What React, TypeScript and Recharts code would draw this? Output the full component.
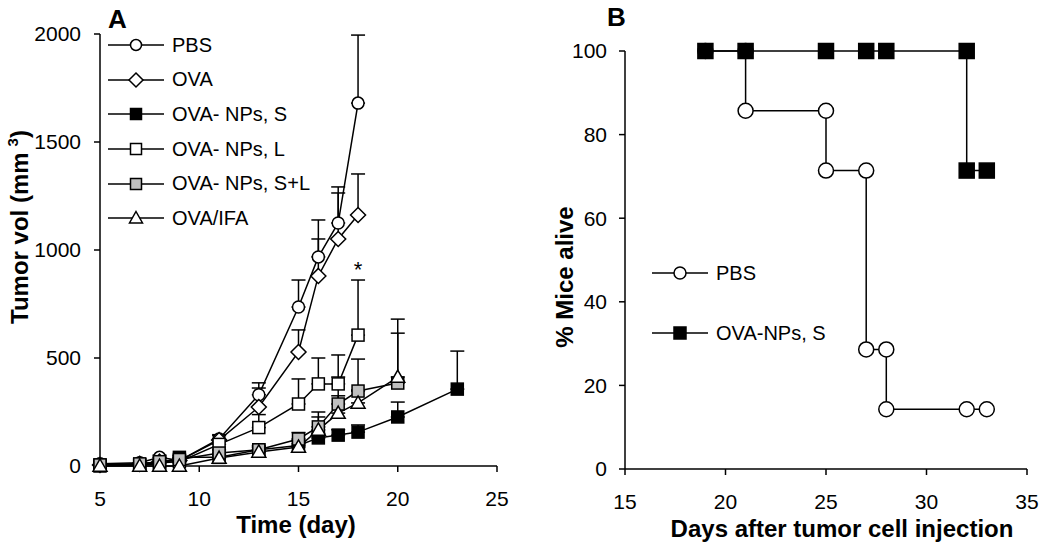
import { LineChart, Line, XAxis, YAxis, ErrorBar, Legend, ReferenceDot } from 'recharts';

const FONT = '"Liberation Sans", Arial, Helvetica, sans-serif';

// Panel A: tumour growth, mean volume (mm3) with upper SD
const daysShort = [5, 7, 8, 9, 11, 13, 15, 16, 17, 18];
const daysTo20 = [5, 7, 8, 9, 11, 13, 15, 16, 17, 18, 20];
const daysTo23 = [5, 7, 8, 9, 11, 13, 15, 16, 17, 18, 20, 23];

const pbsVol = [10, 15, 40, 25, 125, 330, 736, 968, 1125, 1680];
const pbsSd = [null, null, 10, 10, 20, 55, 125, 171, 167, 315];
const ovaVol = [5, 10, 20, 25, 120, 273, 528, 880, 1051, 1162];
const ovaSd = [null, null, null, 10, 20, 88, 102, 171, 213, 190];
const npSVol = [0, 5, 10, 40, 40, 75, 95, 130, 143, 157, 227, 356];
const npSSd = [null, null, null, 10, 10, 15, 20, 20, 25, 33, 69, 176];
const npLVol = [5, 5, 15, 20, 100, 178, 287, 380, 380, 606];
const npLSd = [null, null, null, 10, 20, 60, 116, 120, 134, 255];
const npSLVol = [5, 10, 20, 30, 60, 75, 125, 181, 287, 347, 384];
const npSLSd = [null, null, null, 10, 15, 20, 30, 69, 125, 148, 231];
const ifaVol = [0, 0, 0, 0, 37, 65, 88, 167, 245, 292, 412];
const ifaSd = [null, null, null, null, 15, 20, 15, 60, 80, 60, 268];

const volTicks = [0, 500, 1000, 1500, 2000];
const dayTicks = [5, 10, 15, 20, 25];

// Panel B: survival (step curves, repeated days give the drops)
const survDaysPbs = [19, 21, 21, 25, 25, 27, 27, 28, 28, 32, 33];
const survPbs = [100, 100, 85.7, 85.7, 71.4, 71.4, 28.6, 28.6, 14.3, 14.3, 14.3];
const survDaysNpS = [19, 21, 25, 27, 28, 32, 32, 33];
const survNpS = [100, 100, 100, 100, 100, 100, 71.4, 71.4];

const aliveTicks = [0, 20, 40, 60, 80, 100];
const survDayTicks = [15, 20, 25, 30, 35];

type Shape = 'circle' | 'diamond' | 'square' | 'triangle';

const toRows = (days: number[], vol: number[], sd: (number | null)[]) =>
  days.map((day, i) => ({ day, vol: vol[i], err: sd[i] == null ? null : [0, sd[i]] }));

const growthSeries = [
  { name: 'PBS', rows: toRows(daysShort, pbsVol, pbsSd), shape: 'circle' as Shape, fill: '#fff' },
  { name: 'OVA', rows: toRows(daysShort, ovaVol, ovaSd), shape: 'diamond' as Shape, fill: '#fff' },
  { name: 'OVA- NPs, S', rows: toRows(daysTo23, npSVol, npSSd), shape: 'square' as Shape, fill: '#000' },
  { name: 'OVA- NPs, L', rows: toRows(daysShort, npLVol, npLSd), shape: 'square' as Shape, fill: '#fff' },
  { name: 'OVA- NPs, S+L', rows: toRows(daysTo20, npSLVol, npSLSd), shape: 'square' as Shape, fill: '#c0c0c0' },
  { name: 'OVA/IFA', rows: toRows(daysTo20, ifaVol, ifaSd), shape: 'triangle' as Shape, fill: '#fff' },
];

const survSeries = [
  { name: 'PBS', rows: survDaysPbs.map((day, i) => ({ day, alive: survPbs[i] })), shape: 'circle' as Shape, fill: '#fff' },
  { name: 'OVA-NPs, S', rows: survDaysNpS.map((day, i) => ({ day, alive: survNpS[i] })), shape: 'square' as Shape, fill: '#000' },
];

function Marker({ cx, cy, shape, fill, size }: { cx: number; cy: number; shape: Shape; fill: string; size: number }) {
  const s = size / 2;
  const common = { fill, stroke: '#000', strokeWidth: 1.5 };
  if (shape === 'circle') return <circle cx={cx} cy={cy} r={s} {...common} />;
  if (shape === 'diamond') {
    const d = s + 1.5;
    return <polygon points={`${cx},${cy - d} ${cx + d},${cy} ${cx},${cy + d} ${cx - d},${cy}`} {...common} />;
  }
  if (shape === 'triangle') {
    const w = s + 1;
    return <polygon points={`${cx},${cy - w} ${cx + w},${cy + w * 0.75} ${cx - w},${cy + w * 0.75}`} {...common} />;
  }
  return <rect x={cx - s} y={cy - s} width={size} height={size} {...common} />;
}

function LegendRows({ series, rowHeight, size }: { series: { name: string; shape: Shape; fill: string }[]; rowHeight: number; size: number }) {
  return (
    <div style={{ fontFamily: FONT, fontSize: 20, color: '#000' }}>
      {series.map((s) => (
        <div key={s.name} style={{ display: 'flex', alignItems: 'center', height: rowHeight, whiteSpace: 'nowrap' }}>
          <svg width={56} height={20} style={{ display: 'block' }}>
            <line x1={0} y1={10} x2={56} y2={10} stroke="#000" strokeWidth={1.5} />
            <Marker cx={28} cy={10} shape={s.shape} fill={s.fill} size={size} />
          </svg>
          <span style={{ marginLeft: 8 }}>{s.name}</span>
        </div>
      ))}
    </div>
  );
}

const tickStyle = { fontSize: 21, fill: '#000', fontFamily: FONT };
const titleStyle = { fontSize: 24, fontWeight: 700, fill: '#000', fontFamily: FONT };

export default function App() {
  return (
    <div style={{ position: 'absolute', left: 0, top: 0, width: 1050, height: 549, background: '#fff', fontFamily: FONT }}>
      {/* Panel A */}
      <div style={{ position: 'absolute', left: 0, top: 0 }}>
        <LineChart width={520} height={549} margin={{ top: 34, right: 23, left: 0, bottom: 0 }}>
          <XAxis
            type="number"
            dataKey="day"
            domain={[5, 25]}
            ticks={dayTicks}
            interval={0}
            height={83}
            stroke="#000"
            strokeWidth={1.5}
            tickSize={6}
            tickMargin={19}
            tick={tickStyle}
            label={() => (
              <text x={296} y={533} textAnchor="middle" style={titleStyle}>Time (day)</text>
            )}
          />
          <YAxis
            type="number"
            dataKey="vol"
            domain={[0, 2000]}
            ticks={volTicks}
            interval={0}
            width={100}
            stroke="#000"
            strokeWidth={1.5}
            tickSize={6}
            tickMargin={13}
            tick={tickStyle}
            label={() => (
              <text transform="translate(28,227) rotate(-90)" textAnchor="middle" style={titleStyle}>
                Tumor vol (mm<tspan dx={6} dy={-10} fontSize={15}>3</tspan><tspan dy={10}>)</tspan>
              </text>
            )}
          />
          <Legend
            layout="vertical"
            align="center"
            verticalAlign="middle"
            wrapperStyle={{ left: 108, top: 28, width: 260, height: 210 }}
            content={() => <LegendRows series={growthSeries} rowHeight={34.6} size={11} />}
          />
          {growthSeries.map((s) => (
            <Line
              key={s.name}
              data={s.rows}
              dataKey="vol"
              name={s.name}
              type="linear"
              stroke="#000"
              strokeWidth={1.5}
              isAnimationActive={false}
              activeDot={false}
              dot={(p: any) => (
                <Marker key={`${s.name}-${p.index}`} cx={p.cx} cy={p.cy} shape={s.shape} fill={s.fill} size={12} />
              )}
            >
              <ErrorBar dataKey="err" width={7} stroke="#000" strokeWidth={1.5} direction="y" />
            </Line>
          ))}
          <ReferenceDot
            x={18}
            y={910}
            r={1}
            fill="none"
            stroke="none"
            label={{ value: '*', position: 'center', fontSize: 22, fill: '#000', fontFamily: FONT }}
          />
        </LineChart>
        <div style={{ position: 'absolute', left: 108, top: 4, fontSize: 26, fontWeight: 700, lineHeight: '30px' }}>A</div>
      </div>

      {/* Panel B */}
      <div style={{ position: 'absolute', left: 520, top: 0 }}>
        <LineChart width={530} height={549} margin={{ top: 51, right: 23, left: 0, bottom: 0 }}>
          <XAxis
            type="number"
            dataKey="day"
            domain={[15, 35]}
            ticks={survDayTicks}
            interval={0}
            height={80}
            stroke="#000"
            strokeWidth={1.5}
            tickSize={6}
            tickMargin={19}
            tick={tickStyle}
            label={() => (
              <text x={322} y={537} textAnchor="middle" style={titleStyle}>Days after tumor cell injection</text>
            )}
          />
          <YAxis
            type="number"
            dataKey="alive"
            domain={[0, 100]}
            ticks={aliveTicks}
            interval={0}
            width={105}
            stroke="#000"
            strokeWidth={1.5}
            tickSize={6}
            tickMargin={12}
            tick={tickStyle}
            label={() => (
              <text transform="translate(53,277) rotate(-90)" textAnchor="middle" style={titleStyle}>% Mice alive</text>
            )}
          />
          <Legend
            layout="vertical"
            align="center"
            verticalAlign="middle"
            wrapperStyle={{ left: 132, top: 243, width: 260, height: 120 }}
            content={() => <LegendRows series={survSeries} rowHeight={60} size={12} />}
          />
          {survSeries.map((s) => (
            <Line
              key={s.name}
              data={s.rows}
              dataKey="alive"
              name={s.name}
              type="linear"
              stroke="#000"
              strokeWidth={1.5}
              isAnimationActive={false}
              activeDot={false}
              dot={(p: any) => (
                <Marker key={`${s.name}-${p.index}`} cx={p.cx} cy={p.cy} shape={s.shape} fill={s.fill} size={15} />
              )}
            />
          ))}
        </LineChart>
        <div style={{ position: 'absolute', left: 87, top: 2, fontSize: 26, fontWeight: 700, lineHeight: '30px' }}>B</div>
      </div>
    </div>
  );
}
